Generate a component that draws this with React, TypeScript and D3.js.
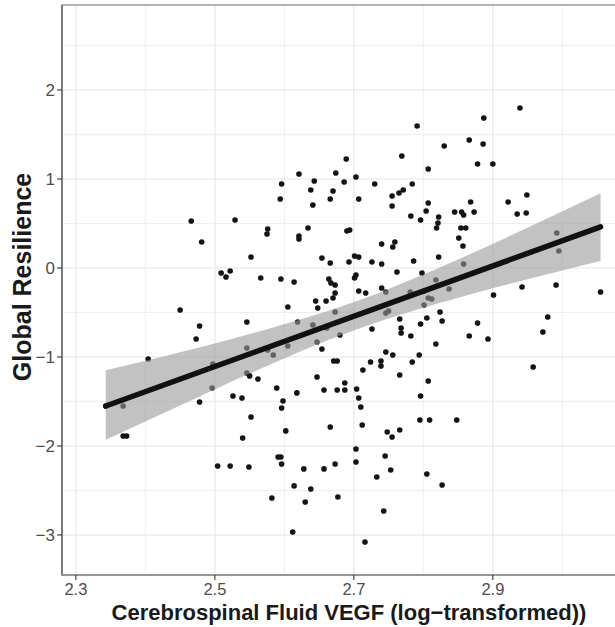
import React, { useEffect, useRef } from 'react';
import * as d3 from 'd3';

// CSF VEGF (log) and global resilience
const vegf = [
  2.689, 2.621, 2.643, 2.674, 2.686, 2.703, 2.596, 2.638, 2.670, 2.594,
  2.666, 2.641, 2.707, 2.466, 2.529, 2.481, 2.576, 2.575, 2.621, 2.621,
  2.634, 2.690, 2.694, 2.552, 2.654, 2.666, 2.693, 2.701, 2.707, 2.509,
  2.522, 2.516, 2.566, 2.595, 2.614, 2.664, 2.667, 2.673, 2.703, 2.701,
  2.707, 2.673, 2.670, 2.660, 2.645, 2.648, 2.605, 2.450, 2.478, 2.546,
  2.619, 2.673, 2.641, 2.661, 2.680, 2.473, 2.939, 2.887, 2.791, 2.866,
  2.886, 2.830, 2.769, 2.878, 2.900, 2.807, 2.730, 2.784, 2.771, 2.765,
  2.755, 2.755, 2.807, 2.868, 2.922, 2.949, 2.804, 2.782, 2.796, 2.822,
  2.845, 2.855, 2.858, 2.873, 2.935, 2.948, 2.821, 2.819, 2.854, 2.861,
  2.851, 2.740, 2.759, 2.756, 2.857, 2.992, 2.995, 2.726, 2.740, 2.786,
  2.822, 2.858, 2.762, 2.798, 2.818, 2.837, 2.717, 2.740, 2.746, 2.781,
  2.801, 2.807, 2.812, 2.746, 2.750, 2.801, 2.901, 2.942, 2.991, 3.055,
  2.726, 2.766, 2.768, 2.768, 2.782, 2.805, 2.796, 2.824, 2.827, 2.878,
  2.866, 2.979, 2.972, 2.893, 2.818, 2.746, 2.756, 2.794, 2.724, 2.739,
  2.739, 2.784, 2.713, 2.766, 2.807, 2.958, 2.704, 2.707, 2.796, 2.710,
  2.712, 2.795, 2.809, 2.848, 2.748, 2.755, 2.766, 2.703, 2.703, 2.745,
  2.753, 2.733, 2.805, 2.827, 2.743, 2.716, 2.404, 2.546, 2.576, 2.584,
  2.605, 2.647, 2.654, 2.497, 2.496, 2.478, 2.368, 2.343, 2.368, 2.373,
  2.546, 2.550, 2.562, 2.589, 2.618, 2.647, 2.657, 2.671, 2.676, 2.676,
  2.687, 2.687, 2.526, 2.539, 2.598, 2.596, 2.552, 2.540, 2.602, 2.666,
  2.504, 2.522, 2.549, 2.591, 2.595, 2.596, 2.628, 2.657, 2.673, 2.614,
  2.638, 2.582, 2.630, 2.677, 2.612,
];

const resilience = [
  1.225, 1.056, 0.978, 1.067, 0.966, 1.022, 0.944, 0.876, 0.865, 0.775,
  0.775, 0.708, 0.775, 0.528, 0.539, 0.292, 0.438, 0.382, 0.360, 0.326,
  0.449, 0.416, 0.427, 0.124, 0.112, 0.056, 0.067, 0.135, 0.124, -0.056,
  -0.034, -0.101, -0.112, -0.124, -0.157, -0.124, -0.169, -0.191, -0.079, -0.112,
  -0.258, -0.281, -0.337, -0.371, -0.371, -0.449, -0.438, -0.472, -0.652, -0.607,
  -0.607, -0.494, -0.640, -0.674, -0.753, -0.798, 1.798, 1.685, 1.596, 1.438,
  1.393, 1.371, 1.258, 1.169, 1.169, 1.112, 0.944, 0.944, 0.876, 0.843,
  0.809, 0.697, 0.730, 0.742, 0.742, 0.820, 0.640, 0.584, 0.539, 0.573,
  0.629, 0.629, 0.596, 0.629, 0.607, 0.618, 0.506, 0.449, 0.449, 0.449,
  0.337, 0.270, 0.292, 0.236, 0.247, 0.393, 0.191, 0.067, 0.045, 0.079,
  0.124, 0.045, -0.045, -0.056, -0.135, -0.236, -0.281, -0.225, -0.270, -0.270,
  -0.258, -0.337, -0.348, -0.506, -0.483, -0.416, -0.303, -0.213, -0.191, -0.270,
  -0.685, -0.573, -0.674, -0.730, -0.764, -0.562, -0.629, -0.494, -0.596, -0.618,
  -0.764, -0.551, -0.719, -0.798, -0.854, -0.944, -0.978, -0.978, -1.056, -1.045,
  -1.101, -1.056, -1.146, -1.202, -1.270, -1.112, -1.360, -1.461, -1.438, -1.562,
  -1.764, -1.708, -1.708, -1.708, -1.843, -1.899, -1.820, -2.034, -2.180, -2.112,
  -2.270, -2.348, -2.315, -2.438, -2.730, -3.079, -1.022, -0.899, -0.921, -0.978,
  -0.876, -0.831, -0.910, -1.079, -1.348, -1.506, -1.551, -1.551, -1.888, -1.888,
  -1.180, -1.213, -1.247, -1.348, -1.404, -1.225, -1.371, -1.045, -1.045, -1.371,
  -1.292, -1.371, -1.438, -1.461, -1.494, -1.573, -1.674, -1.910, -1.831, -1.787,
  -2.225, -2.225, -2.236, -2.124, -2.124, -2.202, -2.258, -2.258, -2.202, -2.449,
  -2.483, -2.584, -2.629, -2.573, -2.966,
];

// linear fit and its confidence band
const fitX = [2.343, 3.055];
const fitY = [-1.551, 0.461];
const bandX = [2.343, 2.45, 2.55, 2.65, 2.7, 2.75, 2.85, 2.95, 3.055];
const bandLo = [-1.93, -1.546, -1.187, -0.852, -0.702, -0.567, -0.334, -0.127, 0.078];
const bandHi = [-1.15, -0.948, -0.743, -0.514, -0.382, -0.235, 0.096, 0.453, 0.84];

const xTicks = [2.3, 2.5, 2.7, 2.9];
const xMinor = [2.4, 2.6, 2.8, 3.0];
const yTicks = [-3, -2, -1, 0, 1, 2];
const yMinor = [-2.5, -1.5, -0.5, 0.5, 1.5, 2.5];

const W = 615;
const H = 627;

const App = () => {
  const ref = useRef(null);

  useEffect(() => {
    const svg = d3.select(ref.current);
    svg.selectAll('*').remove();

    const left = 62, right = 636, top = 5, bottom = 575;
    const x = d3.scaleLinear().domain([2.28, 3.106]).range([left, right]);
    const y = d3.scaleLinear().domain([-3.45, 2.955]).range([bottom, top]);

    svg.append('rect').attr('width', W).attr('height', H).attr('fill', '#fff');

    // grid
    const grid = svg.append('g');
    grid.selectAll('.xmin').data(xMinor).enter().append('line')
      .attr('x1', d => x(d)).attr('x2', d => x(d)).attr('y1', top).attr('y2', bottom)
      .attr('stroke', '#ebebeb').attr('stroke-width', 0.8);
    grid.selectAll('.ymin').data(yMinor).enter().append('line')
      .attr('y1', d => y(d)).attr('y2', d => y(d)).attr('x1', left).attr('x2', right)
      .attr('stroke', '#ebebeb').attr('stroke-width', 0.8);
    grid.selectAll('.xmaj').data(xTicks).enter().append('line')
      .attr('x1', d => x(d)).attr('x2', d => x(d)).attr('y1', top).attr('y2', bottom)
      .attr('stroke', '#e6e6e6').attr('stroke-width', 1.1);
    grid.selectAll('.ymaj').data(yTicks).enter().append('line')
      .attr('y1', d => y(d)).attr('y2', d => y(d)).attr('x1', left).attr('x2', right)
      .attr('stroke', '#e6e6e6').attr('stroke-width', 1.1);

    // points
    svg.append('g').selectAll('circle')
      .data(vegf.map((v, i) => [v, resilience[i]]))
      .enter().append('circle')
      .attr('cx', d => x(d[0])).attr('cy', d => y(d[1])).attr('r', 2.8)
      .attr('fill', '#141414');

    // confidence band
    const area = d3.area()
      .x((d, i) => x(bandX[i]))
      .y0((d, i) => y(bandLo[i]))
      .y1((d, i) => y(bandHi[i]))
      .curve(d3.curveNatural);
    svg.append('path').attr('d', area(bandX))
      .attr('fill', '#999999').attr('fill-opacity', 0.6);

    // fit line
    const line = d3.line().x(d => x(d[0])).y(d => y(d[1]));
    svg.append('path').attr('d', line(fitX.map((v, i) => [v, fitY[i]])))
      .attr('fill', 'none').attr('stroke', '#111').attr('stroke-width', 5.5)
      .attr('stroke-linecap', 'round');

    // panel border + axes
    svg.append('rect').attr('x', left).attr('y', top)
      .attr('width', right - left).attr('height', bottom - top)
      .attr('fill', 'none').attr('stroke', '#8c8c8c').attr('stroke-width', 1.3);
    svg.append('line').attr('x1', left).attr('x2', left).attr('y1', top).attr('y2', bottom + 0.5)
      .attr('stroke', '#555').attr('stroke-width', 1.2);
    svg.append('line').attr('x1', left).attr('x2', right).attr('y1', bottom).attr('y2', bottom)
      .attr('stroke', '#8c8c8c').attr('stroke-width', 1.3);

    const font = 'Liberation Sans, Arial, sans-serif';

    const xa = svg.append('g');
    xa.selectAll('line').data(xTicks).enter().append('line')
      .attr('x1', d => x(d)).attr('x2', d => x(d)).attr('y1', bottom).attr('y2', bottom + 5)
      .attr('stroke', '#333').attr('stroke-width', 1.1);
    xa.selectAll('text').data(xTicks).enter().append('text')
      .attr('x', d => x(d)).attr('y', bottom + 20)
      .attr('text-anchor', 'middle').attr('font-family', font).attr('font-size', 16.5)
      .attr('fill', '#4d4d4d').text(d => d3.format('.1f')(d));

    const ya = svg.append('g');
    ya.selectAll('line').data(yTicks).enter().append('line')
      .attr('x1', left - 5).attr('x2', left).attr('y1', d => y(d)).attr('y2', d => y(d))
      .attr('stroke', '#333').attr('stroke-width', 1.1);
    ya.selectAll('text').data(yTicks).enter().append('text')
      .attr('x', left - 7).attr('y', d => y(d)).attr('dy', '0.36em')
      .attr('text-anchor', 'end').attr('font-family', font).attr('font-size', 17)
      .attr('fill', '#4d4d4d').text(d => (d < 0 ? '\u2212' : '') + Math.abs(d));

    svg.append('text')
      .attr('x', (left + right) / 2).attr('y', 620)
      .attr('text-anchor', 'middle').attr('font-family', font).attr('font-size', 22)
      .attr('font-weight', 'bold').attr('fill', '#1a1a1a')
      .text('Cerebrospinal Fluid VEGF (log\u2212transformed))');

    svg.append('text')
      .attr('transform', 'translate(31,277) rotate(-90)')
      .attr('text-anchor', 'middle').attr('font-family', font).attr('font-size', 25)
      .attr('font-weight', 'bold').attr('fill', '#1a1a1a')
      .text('Global Resilience');

    // stray glyph cut at the left edge
    svg.append('text')
      .attr('x', -7).attr('y', 458)
      .attr('font-family', font).attr('font-size', 22).attr('fill', '#333')
      .text(')');
  }, []);

  return (
    <div style={{ position: 'absolute', left: 0, top: 0 }}>
      <svg ref={ref} width={W} height={H} style={{ display: 'block' }} />
    </div>
  );
};

export default App;
